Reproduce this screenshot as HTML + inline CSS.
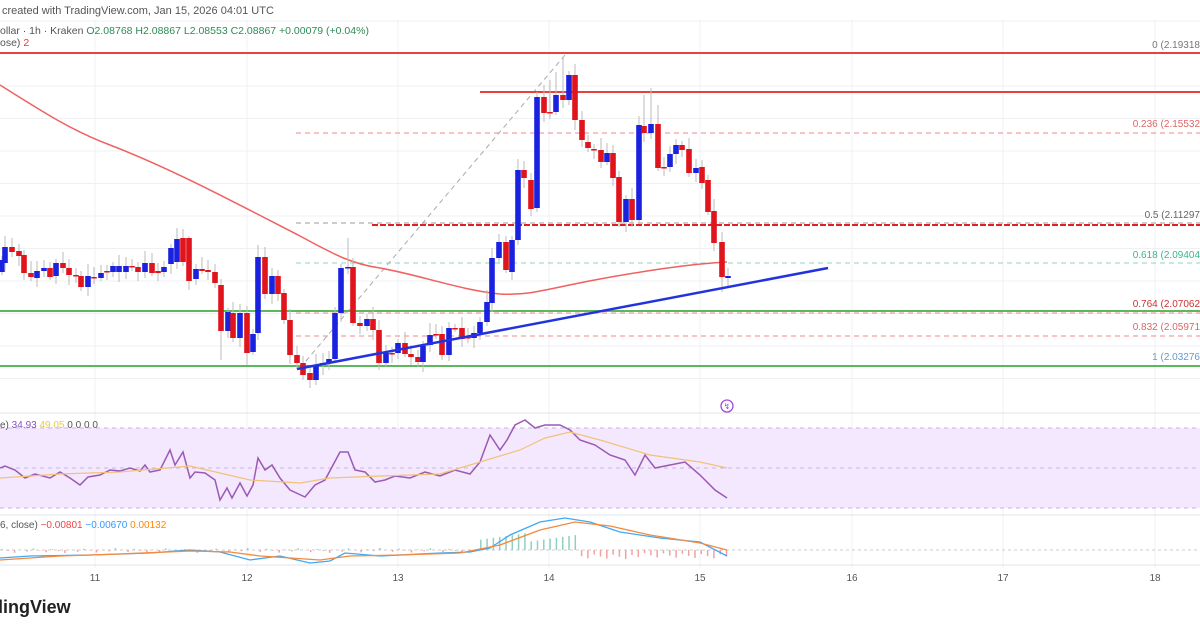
<!DOCTYPE html>
<html><head><meta charset="utf-8"><style>
html,body{margin:0;padding:0;background:#fff;width:1200px;height:630px;overflow:hidden;font-family:"Liberation Sans",sans-serif}
svg{position:absolute;left:0;top:0}
</style></head><body>
<svg id="s" width="1200" height="630" viewBox="0 0 1200 630" xmlns="http://www.w3.org/2000/svg" font-family="Liberation Sans, sans-serif">
<g stroke="#eef0f3" stroke-width="1" id="grid"></g>
<rect x="0" y="428" width="1200" height="80" fill="#f3e8fd"/>
<g stroke="#c9b3e6" stroke-dasharray="4,4"><line x1="0" y1="428" x2="1200" y2="428"/><line x1="0" y1="468" x2="1200" y2="468"/><line x1="0" y1="508" x2="1200" y2="508"/></g>
<line x1="0" y1="413" x2="1200" y2="413" stroke="#e0e3eb"/>
<line x1="0" y1="515" x2="1200" y2="515" stroke="#e0e3eb"/>
<line x1="0" y1="565" x2="1200" y2="565" stroke="#e0e3eb"/>
<line x1="0" y1="550" x2="1200" y2="550" stroke="#ccc" stroke-dasharray="3,3"/>
<text x="2" y="14" font-size="11" fill="#555">created with TradingView.com, Jan 15, 2026 04:01 UTC</text>
<text x="0" y="34" font-size="10.5" fill="#555">ollar · 1h · Kraken <tspan fill="#2e8b57">O2.08768 H2.08867 L2.08553 C2.08867 +0.00079 (+0.04%)</tspan></text>
<text x="0" y="46" font-size="10.5" fill="#555">ose) <tspan fill="#e33">2</tspan></text>
<g stroke-dasharray="5,4" stroke-width="1">
<line x1="296" y1="133" x2="1200" y2="133" stroke="#e88"/>
<line x1="296" y1="223" x2="1200" y2="223" stroke="#999"/>
<line x1="296" y1="263" x2="1200" y2="263" stroke="#8cd3c0"/>
<line x1="296" y1="313" x2="1200" y2="313" stroke="#e88"/>
<line x1="296" y1="336" x2="1200" y2="336" stroke="#e88"/>
<line x1="300" y1="368" x2="565" y2="55" stroke="#aaa"/>
</g>
<line x1="0" y1="53" x2="1200" y2="53" stroke="#e8403f" stroke-width="2"/>
<line x1="480" y1="92" x2="1200" y2="92" stroke="#e8403f" stroke-width="2"/>
<line x1="372" y1="225" x2="1200" y2="225" stroke="#e02020" stroke-width="2" stroke-dasharray="6,2"/>
<line x1="0" y1="311" x2="1200" y2="311" stroke="#5cb85c" stroke-width="2"/>
<line x1="0" y1="366" x2="1200" y2="366" stroke="#5cb85c" stroke-width="2"/>
<g font-size="10" text-anchor="end">
<text x="1200" y="48" fill="#777">0 (2.19318</text>
<text x="1200" y="127" fill="#d66">0.236 (2.15532</text>
<text x="1200" y="218" fill="#666">0.5 (2.11297</text>
<text x="1200" y="258" fill="#3bb58f">0.618 (2.09404</text>
<text x="1200" y="307" fill="#c33">0.764 (2.07062</text>
<text x="1200" y="330" fill="#d66">0.832 (2.05971</text>
<text x="1200" y="360" fill="#69c">1 (2.03276</text>
</g>
<path d="M0,85 C40,110 70,130 110,145 C170,168 230,200 300,236 C330,252 350,264 380,268 C420,275 460,290 500,294 C530,296 550,288 600,279 C650,270 690,264 727,262" fill="none" stroke="#f06060" stroke-width="1.5"/>
<g id="candles"></g>
<line x1="297" y1="369" x2="828" y2="268" stroke="#2233dd" stroke-width="2.5"/>
<circle cx="727" cy="406" r="6" fill="none" stroke="#a04bd8" stroke-width="1.3"/>
<text x="727" y="409" font-size="8" fill="#a04bd8" text-anchor="middle">↯</text>
<text x="0" y="428" font-size="10" fill="#555">e) <tspan fill="#8a4fc0">34.93</tspan> <tspan fill="#e8c94a">49.05</tspan> 0 0 0 0</text>
<polyline id="rsi" fill="none" stroke="#9b59b6" stroke-width="1.5"/>
<polyline id="sig" fill="none" stroke="#f1c27a" stroke-width="1.2"/>
<text x="0" y="528" font-size="10" fill="#555">6, close) <tspan fill="#e44">−0.00801</tspan> <tspan fill="#39f">−0.00670</tspan> <tspan fill="#f80">0.00132</tspan></text>
<g id="hist"></g>
<polyline id="macd" fill="none" stroke="#3fa9f5" stroke-width="1.3"/>
<polyline id="msig" fill="none" stroke="#f5893d" stroke-width="1.3"/>
<g font-size="10" fill="#555" text-anchor="middle" id="tl"></g>
<text x="-8" y="613" font-size="18" font-weight="bold" fill="#222">dingView</text>
</svg>
<script>
var NS="http://www.w3.org/2000/svg";
function el(t,a,p){var e=document.createElementNS(NS,t);for(var k in a)e.setAttribute(k,a[k]);document.getElementById(p).appendChild(e);return e;}
var days=[95,247,398,549,700,852,1003,1155];
for(var y=21;y<410;y+=32.5)el("line",{x1:0,y1:y,x2:1200,y2:y},"grid");
days.forEach(function(x,i){el("line",{x1:x,y1:20,x2:x,y2:568},"grid");var t=el("text",{x:x,y:581},"tl");t.textContent=String(11+i);});
var C=[[2,260,272,'b'],[5,247,263,'b'],[12,247,252,'r'],[19,251,256,'r'],[24,255,273,'r'],[31,273,277,'r'],[37,271,278,'b'],[44,268,271,'b'],[50,268,277,'r'],[56,263,276,'b'],[63,263,268,'r'],[69,268,275,'r'],[76,275,276,'r'],[81,276,287,'r'],[88,276,287,'b'],[94,277,278,'r'],[101,273,278,'b'],[107,271,272,'r'],[113,266,272,'b'],[119,266,272,'b'],[126,266,272,'b'],[132,266,267,'r'],[138,267,272,'r'],[145,263,272,'b'],[152,263,273,'r'],[158,271,273,'r'],[164,267,272,'b'],[171,248,264,'b'],[177,239,262,'b'],[183,238,262,'r'],[189,238,281,'r'],[196,269,279,'b'],[202,269,271,'r'],[208,270,272,'r'],[215,272,283,'r'],[221,285,331,'r'],[228,312,331,'b'],[233,313,338,'r'],[240,313,338,'b'],[247,313,353,'r'],[253,334,352,'b'],[258,257,333,'b'],[265,257,294,'r'],[272,276,294,'b'],[278,276,294,'r'],[284,293,320,'r'],[290,320,355,'r'],[297,355,363,'r'],[303,363,375,'r'],[310,373,380,'r'],[316,366,380,'b'],[323,363,365,'b'],[329,359,363,'b'],[335,313,359,'b'],[341,268,313,'b'],[348,267,268,'b'],[353,267,323,'r'],[360,323,326,'r'],[367,319,326,'b'],[373,319,330,'r'],[379,330,363,'r'],[386,353,363,'b'],[392,353,354,'r'],[398,343,353,'b'],[405,343,354,'r'],[411,354,357,'r'],[418,357,362,'r'],[423,346,362,'b'],[430,335,345,'b'],[436,334,335,'r'],[442,334,355,'r'],[449,328,355,'b'],[455,328,329,'r'],[462,328,339,'r'],[468,337,338,'r'],[474,333,338,'b'],[480,322,333,'b'],[487,302,322,'b'],[492,258,303,'b'],[499,242,258,'b'],[506,242,270,'r'],[512,240,272,'b'],[518,170,240,'b'],[524,170,178,'r'],[531,180,209,'r'],[537,97,208,'b'],[544,97,113,'r'],[550,112,113,'r'],[556,95,112,'b'],[563,95,100,'r'],[569,75,100,'b'],[575,75,120,'r'],[582,120,140,'r'],[588,142,148,'r'],[594,149,150,'r'],[601,150,162,'r'],[607,153,162,'b'],[613,153,178,'r'],[619,177,222,'r'],[626,199,222,'b'],[632,199,220,'r'],[639,125,220,'b'],[644,126,133,'r'],[651,124,133,'b'],[658,124,168,'r'],[664,167,168,'r'],[670,154,167,'b'],[676,145,154,'b'],[682,145,150,'r'],[689,149,173,'r'],[696,168,173,'b'],[702,167,183,'r'],[708,180,212,'r'],[714,211,243,'r'],[722,242,277,'r'],[728,276,278,'b']];
var HI={563:57,556:72,550:80,644:95,651:88,658:105,348:238,189:236},LO={722:292,221:360,247:365,303:380,258:340,442:360};
C.forEach(function(c,i){var col=c[3]=='b'?'#1a22e0':'#e0141c';var h=HI[c[0]]||c[1]-(4+(i*7)%9),l=LO[c[0]]||c[2]+(3+(i*5)%8);
el("line",{x1:c[0],y1:h,x2:c[0],y2:l,stroke:"#bbb","stroke-width":1},"candles");
el("rect",{x:c[0]-2.8,y:c[1],width:5.6,height:Math.max(1.5,c[2]-c[1]),fill:col},"candles");});
document.getElementById("rsi").setAttribute("points","0,468 5,466 15,470 25,478 35,474 50,478 60,472 70,478 80,485 88,477 100,475 110,470 120,471 130,468 140,471 145,465 150,472 160,470 165,460 170,450 175,465 183,452 190,478 195,472 205,473 215,480 220,500 227,488 232,498 240,483 247,496 253,485 258,458 265,470 272,465 280,478 290,490 305,497 315,485 325,480 340,452 348,452 355,470 365,472 375,482 385,480 395,476 410,478 425,472 440,476 455,470 470,474 480,462 490,435 500,450 507,440 515,425 525,420 535,428 545,425 560,425 570,430 580,440 595,445 610,455 625,460 635,475 645,455 655,468 670,465 685,462 700,475 715,490 727,498");
document.getElementById("sig").setAttribute("points","0,478 60,474 120,472 190,466 250,480 300,483 330,478 380,476 440,474 480,462 520,450 545,438 570,432 600,440 650,455 700,462 727,468");
document.getElementById("macd").setAttribute("points","0,558 30,556 90,555 150,553 190,550 220,552 250,560 280,556 310,563 330,561 345,553 380,556 440,553 470,552 490,548 510,535 540,522 565,518 590,522 620,532 660,538 700,542 727,556");
document.getElementById("msig").setAttribute("points","0,560 60,556 120,554 190,551 230,552 260,556 290,558 320,560 350,556 400,555 460,553 500,545 540,530 575,522 610,526 650,535 700,543 727,550");
for(var x=2;x<728;x+=6.3){var v=(x>480&&x<580)?-(8+((x*3)%9)):(x>580?3+((x*7)%6):((x*13)%5)-2);el("line",{x1:x,y1:550,x2:x,y2:550+v,stroke:v<0?"#8fd0c0":"#f2a0a0","stroke-width":1.5},"hist");}
</script>
</body></html>
